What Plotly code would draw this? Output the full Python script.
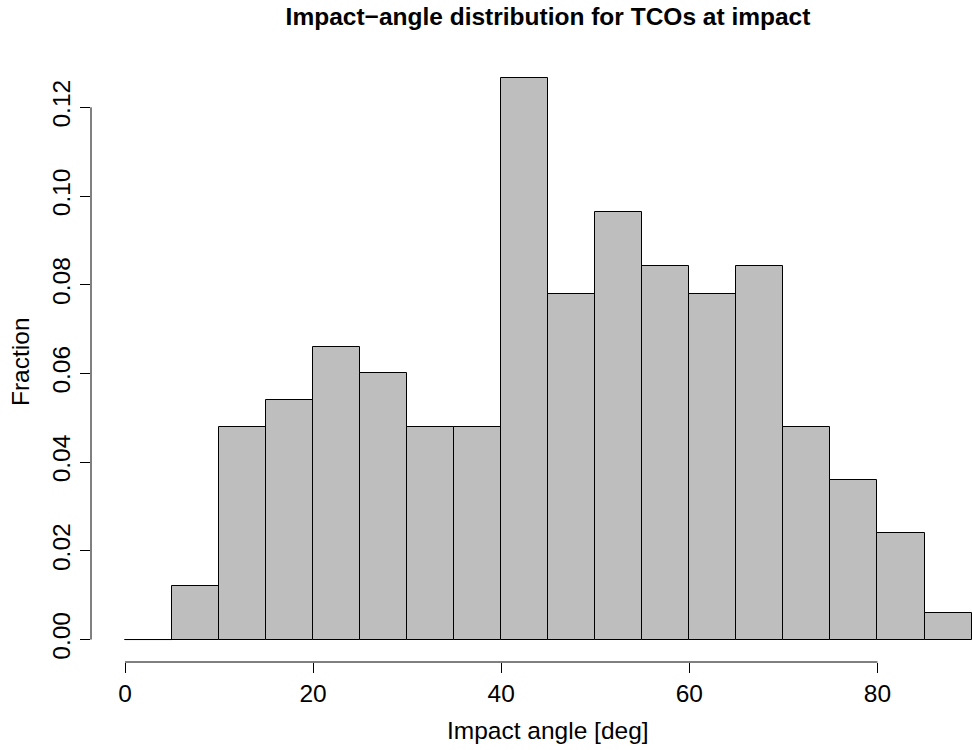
import plotly.graph_objects as go

# Histogram bins (degrees) and fractions
bin_left = [0, 5, 10, 15, 20, 25, 30, 35, 40, 45, 50, 55, 60, 65, 70, 75, 80, 85]
bin_width = 5
fraction = [0.0, 0.012, 0.048, 0.054, 0.066, 0.060, 0.048, 0.048, 0.1265,
            0.078, 0.0964, 0.0843, 0.078, 0.0843, 0.048, 0.036, 0.024, 0.006]

x_ticks = [0, 20, 40, 60, 80]
y_ticks = [0.00, 0.02, 0.04, 0.06, 0.08, 0.10, 0.12]
y_ticklabels = ["0.00", "0.02", "0.04", "0.06", "0.08", "0.10", "0.12"]

title_text = "Impact\u2212angle distribution for TCOs at impact"
x_label = "Impact angle [deg]"
y_label = "Fraction"

FONT = "Liberation Sans, Arial, Helvetica, sans-serif"
FS = 24.5
W, H = 972, 750
L, R, T, B = 91, 0, 56, 88
pw = W - L - R
ph = H - T - B

centers = [b + bin_width / 2 for b in bin_left]

fig = go.Figure()
fig.add_trace(go.Bar(
    x=centers, y=fraction, width=[bin_width] * len(centers),
    marker=dict(color="#BEBEBE", line=dict(color="black", width=1)),
    hoverinfo="skip", showlegend=False,
))
# zero-height bins are still drawn as a baseline segment in R
for c, f in zip(centers, fraction):
    if f == 0:
        fig.add_shape(type="line", xref="x", yref="y",
                      x0=c - bin_width / 2, x1=c + bin_width / 2, y0=0, y1=0,
                      line=dict(color="black", width=1))

xmin, xmax = -3.615, -3.615 + pw / 9.406
ymin, ymax = -0.00506, 0.13157

fig.update_layout(
    width=W, height=H,
    margin=dict(l=L, r=R, t=T, b=B, pad=0),
    plot_bgcolor="white", paper_bgcolor="white",
    font=dict(family=FONT, size=FS, color="black"),
    bargap=0,
    title=dict(text="<b>" + title_text + "</b>", x=548 / W, xref="container",
               xanchor="center", y=1 - 16 / H, yref="container", yanchor="middle",
               font=dict(family=FONT, size=FS, color="black")),
    xaxis=dict(range=[xmin, xmax], showgrid=False, zeroline=False, showline=False,
               tickmode="array", tickvals=x_ticks, ticktext=[str(v) for v in x_ticks],
               ticks="outside", ticklen=10, tickwidth=1, tickcolor="black",
               tickfont=dict(family=FONT, size=FS, color="black")),
    yaxis=dict(range=[ymin, ymax], showgrid=False, zeroline=False, showline=False,
               tickmode="array", tickvals=y_ticks, ticktext=y_ticklabels,
               ticks="outside", ticklen=10, tickwidth=1, tickcolor="black",
               tickangle=-90,
               tickfont=dict(family=FONT, size=FS, color="black")),
)

# R-style axis lines spanning only the tick range
fig.add_shape(type="line", xref="x", yref="paper", x0=x_ticks[0], x1=x_ticks[-1],
              y0=0, y1=0, line=dict(color="black", width=1))
fig.add_shape(type="line", xref="paper", yref="y", x0=0, x1=0,
              y0=y_ticks[0], y1=y_ticks[-1], line=dict(color="black", width=1))

fig.add_annotation(text=x_label, xref="paper", yref="paper",
                   x=(548 - L) / pw, y=0, xanchor="center", yanchor="middle",
                   yshift=-(730 - (T + ph)), showarrow=False,
                   font=dict(family=FONT, size=FS, color="black"))
fig.add_annotation(text=y_label, xref="paper", yref="paper",
                   x=0, y=(T + ph - 362) / ph, xanchor="center", yanchor="middle",
                   xshift=-(L - 20), textangle=-90, showarrow=False,
                   font=dict(family=FONT, size=FS, color="black"))

fig.write_html("out.html")
